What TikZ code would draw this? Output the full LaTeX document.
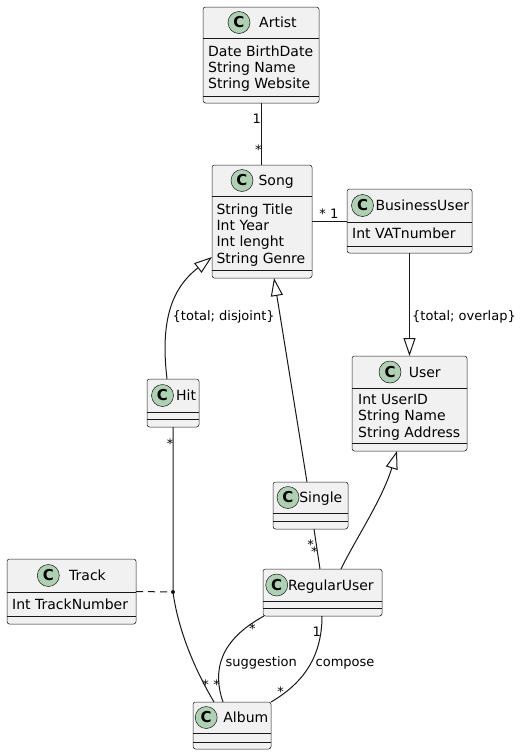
\documentclass[tikz,border=0pt]{standalone}
\usepackage{fontspec}
\setmainfont{DejaVu Sans}
\usetikzlibrary{arrows.meta}

\definecolor{boxfill}{HTML}{F1F1F1}
\definecolor{ink}{HTML}{181818}
\definecolor{spot}{HTML}{ADD1B2}

\tikzset{
  classbox/.style={fill=boxfill, draw=ink, line width=0.5pt, rounded corners=2.5pt,
                   inner sep=0pt, outer sep=0pt},
  sepline/.style={draw=ink, line width=0.5pt},
  spotc/.style={circle, fill=spot, draw=ink, line width=0.5pt, minimum size=22pt,
                inner sep=0pt, font=\fontsize{15}{15}\selectfont\bfseries},
  cname/.style={anchor=base west, inner sep=0pt, font=\fontsize{14}{16}\selectfont},
  attr/.style={anchor=base west, inner sep=0pt, font=\fontsize{14}{16}\selectfont},
  lbl/.style={anchor=base west, inner sep=0pt, font=\fontsize{13}{15}\selectfont},
  mult/.style={anchor=base, inner sep=0pt, font=\fontsize{13}{15}\selectfont},
  link/.style={draw=ink, line width=1pt},
  isa/.style={link, -{Triangle[length=18pt, width=12pt, fill=white]}},
  assocdot/.style={circle, fill=ink, inner sep=0pt, minimum size=4pt},
}

% class box: name, left, top, right, bottom, header rule, body rule
\newcommand\umlbox[7]{%
  \pgfmathsetmacro\bw{#4-#2}\pgfmathsetmacro\bh{#5-#3}%
  \node[classbox, minimum width=\bw pt, minimum height=\bh pt, anchor=north west] (#1) at (#2,#3) {};
  \draw[sepline] (#2,#6) -- (#4,#6);
  \draw[sepline] (#2,#7) -- (#4,#7);
}
% class header: name, spot x, spot y, title x, title
\newcommand\umlhead[5]{%
  \node[spotc] (#1-spot) at (#2,#3) {C};
  \node[cname] (#1-title) at (#4,#3+5.1) {#5};
}

\begin{document}
\begin{tikzpicture}[x=1pt,y=-1pt]
\useasboundingbox[fill=white] (0,0) rectangle (521,755);

% ---- classes ----
\umlbox{artist}{203}{7}{319}{103}{38}{96}
\umlhead{artist}{239}{22.5}{259}{Artist}
\node[attr] (artist-a1) at (208,56) {Date BirthDate};
\node[attr] (artist-a2) at (208,72.3) {String Name};
\node[attr] (artist-a3) at (208,88.6) {String Website};

\umlbox{song}{212}{165}{312}{278}{196}{270}
\umlhead{song}{242}{180.5}{258.4}{Song}
\node[attr] (song-a1) at (216.4,214) {String Title};
\node[attr] (song-a2) at (216.4,230.3) {Int Year};
\node[attr] (song-a3) at (216.4,246.6) {Int lenght};
\node[attr] (song-a4) at (216.4,263) {String Genre};

\umlbox{bu}{347}{189}{472}{253}{222}{246}
\umlhead{bu}{362.5}{205.5}{375.3}{BusinessUser}
\node[attr] (bu-a1) at (352,238.5) {Int VATnumber};

\umlbox{user}{352}{356}{467}{451}{388}{443}
\umlhead{user}{390}{372}{408.6}{User}
\node[attr] (user-a1) at (358,404.5) {Int UserID};
\node[attr] (user-a2) at (358,420.8) {String Name};
\node[attr] (user-a3) at (358,437) {String Address};

\umlbox{hit}{147}{379}{199}{427}{412}{419}
\umlhead{hit}{162.5}{395.5}{175.9}{Hit}

\umlbox{single}{273}{482}{348}{529}{513}{521}
\umlhead{single}{288}{497.5}{299.1}{Single}

\umlbox{ru}{263}{569}{382}{616}{601}{608}
\umlhead{ru}{276.7}{585}{287.9}{RegularUser}

\umlbox{track}{7}{559}{136}{624}{592}{616}
\umlhead{track}{48.3}{575.5}{69}{Track}
\node[attr] (track-a1) at (12,609) {Int TrackNumber};

\umlbox{album}{193}{702}{271}{749}{733}{742}
\umlhead{album}{206.2}{717.5}{223.2}{Album}

% ---- connector end points ----
\coordinate (hitN) at (167,379);
\coordinate (songW) at (212,257);
\coordinate (singleN) at (307,482);
\coordinate (songS) at (274,278);
\coordinate (ruN) at (341,569);
\coordinate (userS) at (397,451);
\coordinate (singleS) at (314,529);
\coordinate (ruNW) at (320,569);
\coordinate (assoc) at (173,592);
\coordinate (albumHit) at (214,702);
\coordinate (ruSW) at (264,616);
\coordinate (albumN) at (223,702);
\coordinate (ruS) at (322,616);
\coordinate (albumNE) at (271,702);

% ---- associations ----
\draw[link] (artist.south) -- (artist.south |- song.north);
\node[mult] (m-artist) at (256.7,123) {1};
\node[mult] (m-song1) at (258.3,154) {*};

\draw[link] (song.east |- bu.west) -- (bu.west);
\node[mult] (m-song2) at (322.7,218.7) {*};
\node[mult] (m-bu) at (334.3,218.3) {1};

\draw[link] (singleS) -- (ruNW);
\node[mult] (m-single) at (310.7,549.3) {*};
\node[mult] (m-ru1) at (314.3,556.3) {*};

\draw[link] (hit.south) -- (assoc) .. controls (178,630) and (195,670) .. (albumHit);
\node[mult] (m-hit) at (170,448.7) {*};
\node[mult] (m-album1) at (205.7,689.7) {*};
\draw[link, dash pattern=on 7pt off 5pt] (track.east) -- (assoc);
\node[assocdot] (assoc-dot) at (assoc) {};

\draw[link] (ruSW) .. controls (220,640) and (212,670) .. (albumN);
\node[mult] (m-ru2) at (252.3,633) {*};
\node[mult] (m-album2) at (216.7,689.7) {*};
\node[lbl] (l-sugg) at (225.5,666.5) {suggestion};

\draw[link] (ruS) .. controls (322,660) and (300,685) .. (albumNE);
\node[mult] (m-ru3) at (316.7,636.4) {1};
\node[mult] (m-album3) at (280.7,696) {*};
\node[lbl] (l-comp) at (315.5,666.5) {compose};

% ---- generalisations ----
\draw[isa] (hitN) .. controls (160,320) and (172,288) .. (songW);
\node[lbl] (l-disj) at (172.5,320.5) {\{total; disjoint\}};

\draw[isa] (singleN) -- (songS);

\draw[isa] (bu.south) -- (bu.south |- user.north);
\node[lbl] (l-over) at (412,320.7) {\{total; overlap\}};

\draw[isa] (ruN) .. controls (355,540) and (382,500) .. (userS);
\end{tikzpicture}
\end{document}
